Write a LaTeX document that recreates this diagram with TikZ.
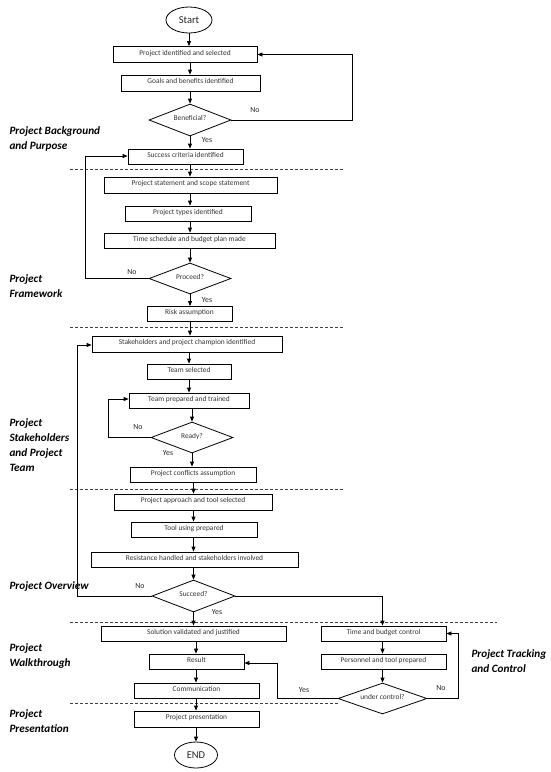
\documentclass[tikz,border=0pt]{standalone}
\usepackage{fontspec}
\setmainfont{Carlito}
\usetikzlibrary{shapes.geometric,arrows.meta}
\begin{document}
\begin{tikzpicture}[x=1pt,y=-1pt,
  box/.style={draw, rectangle, line width=0.8pt, inner sep=0pt, minimum height=15pt, text height=5pt, text depth=4pt, font=\fontsize{7.4}{8}\selectfont, text=black!80},
  dec/.style={draw, diamond, aspect=2.6, line width=0.8pt, inner sep=0pt, text height=4.5pt, text depth=3pt, font=\fontsize{7.4}{8}\selectfont, text=black!80},
  term/.style={draw, ellipse, line width=0.8pt, inner sep=0pt, font=\fontsize{10.5}{12}\selectfont, text=black!85},
  arr/.style={line width=0.8pt, -{Triangle[length=5pt,width=4pt]}},
  ln/.style={line width=0.8pt},
  sep/.style={line width=0.6pt, dash pattern=on 3pt off 2pt, black!75},
  sec/.style={anchor=west, align=left, font=\fontsize{11.2}{15}\selectfont\bfseries\itshape},
  yn/.style={font=\fontsize{7.8}{9}\selectfont, text=black!85}
]
\useasboundingbox (0,0) rectangle (550,772);

% main column
\node[term, minimum width=46pt, minimum height=26pt] (start) at (189,20) {Start};
\node[box, minimum width=144pt, minimum height=16pt] (b1) at (185,54.5) {Project identified and selected};
\node[box, minimum width=139pt, minimum height=16pt] (b2) at (190.5,83) {Goals and benefits identified};
\node[dec, minimum width=82pt, minimum height=32pt] (d1) at (190,120) {Beneficial?};
\node[box, minimum width=115pt] (b3) at (185.5,156.5) {Success criteria identified};

\node[box, minimum width=173pt, minimum height=16pt] (b4) at (190.5,185) {Project statement and scope statement};
\node[box, minimum width=126pt] (b5) at (188,213.5) {Project types identified};
\node[box, minimum width=171pt] (b6) at (189.5,240.5) {Time schedule and budget plan made};
\node[dec, minimum width=82pt, minimum height=31pt] (d2) at (190,278.5) {Proceed?};
\node[box, minimum width=85pt] (b7) at (189.5,314) {Risk assumption};

\node[box, minimum width=190pt, minimum height=16pt] (b8) at (187,344) {Stakeholders and project champion identified};
\node[box, minimum width=84pt] (b9) at (189,371.5) {Team selected};
\node[box, minimum width=120pt] (b10) at (189,400.5) {Team prepared and trained};
\node[dec, minimum width=82pt, minimum height=31pt] (d3) at (192,437.5) {Ready?};
\node[box, minimum width=126pt] (b11) at (193,474.5) {Project conflicts assumption};

\node[box, minimum width=158pt, minimum height=16pt] (b12) at (193,502) {Project approach and tool selected};
\node[box, minimum width=126pt] (b13) at (194,529.5) {Tool using prepared};
\node[box, minimum width=207pt] (b14) at (194.5,559.5) {Resistance handled and stakeholders involved};
\node[dec, minimum width=83pt, minimum height=32pt] (d4) at (193.5,596) {Succeed?};

\node[box, minimum width=185pt] (b15) at (193.5,633.5) {Solution validated and justified};
\node[box, minimum width=95pt] (b16) at (196.5,661.5) {Result};
\node[box, minimum width=125pt] (b17) at (196.5,690.5) {Communication};
\node[box, minimum width=125pt, minimum height=16pt] (b18) at (196.5,719) {Project presentation};
\node[term, minimum width=43pt, minimum height=26pt] (end) at (196,755) {END};

% right column
\node[box, minimum width=125pt] (r1) at (383.5,633.5) {Time and budget control};
\node[box, minimum width=125pt] (r2) at (383.5,661.5) {Personnel and tool prepared};
\node[dec, minimum width=89pt, minimum height=31pt] (d5) at (382.5,698.5) {under control?};

% loop corner coordinates
\coordinate (c1) at (352,0);
\coordinate (c2) at (85,0);
\coordinate (c3) at (108,0);
\coordinate (c4) at (77,0);
\coordinate (c5) at (458,0);
\coordinate (c6) at (277,0);

% separators
\coordinate (s1a) at (70,169);   \coordinate (s1b) at (343,169);
\coordinate (s2a) at (70,327);   \coordinate (s2b) at (343,327);
\coordinate (s3a) at (70,489);   \coordinate (s3b) at (343,489);
\coordinate (s4a) at (70,622);   \coordinate (s4b) at (497,622);
\coordinate (s5a) at (70,703);   \coordinate (s5b) at (d5.west);
\draw[sep] (s1a) -- (s1b);
\draw[sep] (s2a) -- (s2b);
\draw[sep] (s3a) -- (s3b);
\draw[sep] (s4a) -- (s4b);
\draw[sep] (s5a) -- (s5a -| s5b);

% main arrows
\draw[arr] (start.south) -- (start.south |- b1.north);
\draw[arr] (b1.south -| d1) -- (b2.north -| d1);
\draw[arr] (b2.south -| d1) -- (d1.north);
\draw[arr] (d1.south) -- (b3.north -| d1);
\draw[arr] (b3.south -| d2) -- (b4.north -| d2);
\draw[arr] (b4.south -| d2) -- (b5.north -| d2);
\draw[arr] (b5.south -| d2) -- (b6.north -| d2);
\draw[arr] (b6.south -| d2) -- (d2.north);
\draw[arr] (d2.south) -- (b7.north -| d2);
\draw[arr] (b7.south -| d2) -- (b8.north -| d2);
\draw[arr] (b8.south -| b9) -- (b9.north);
\draw[arr] (b9.south) -- (b10.north -| b9);
\draw[arr] (b10.south -| d3) -- (d3.north);
\draw[arr] (d3.south) -- (b11.north -| d3);
\draw[arr] (b11.south -| d4) -- (b12.north -| d4);
\draw[arr] (b12.south -| d4) -- (b13.north -| d4);
\draw[arr] (b13.south -| d4) -- (b14.north -| d4);
\draw[arr] (b14.south -| d4) -- (d4.north);
\draw[arr] (d4.south) -- (b15.north -| d4);
\draw[arr] (b15.south -| end) -- (b16.north -| end);
\draw[arr] (b16.south -| end) -- (b17.north -| end);
\draw[arr] (b17.south -| end) -- (b18.north -| end);
\draw[arr] (b18.south -| end) -- (end.north);

% right arrows
\draw[arr] (d4.east) -| (r1.north -| d5);
\draw[arr] (r1.south -| d5) -- (r2.north -| d5);
\draw[arr] (r2.south -| d5) -- (d5.north);

% loops
\draw[arr] (d1.east) -- (d1.east -| c1) |- (b1.east);
\draw[arr] (d2.west) -- (d2.west -| c2) |- ([yshift=0.5pt]b3.west);
\draw[arr] (d3.west) -- (d3.west -| c3) |- ([yshift=1.5pt]b10.west);
\draw[arr] (d4.west) -- (d4.west -| c4) |- ([yshift=-1pt]b8.west);
\draw[arr] (d5.east) -- (d5.east -| c5) |- (r1.east);
\draw[arr] (d5.west) -- (d5.west -| c6) |- ([yshift=-1.5pt]b16.east);

% yes / no labels
\node[yn] (n1) at (255,110) {No};
\node[yn] (y1) at (207,140) {Yes};
\node[yn] (n2) at (132,272) {No};
\node[yn] (y2) at (207,300) {Yes};
\node[yn] (n3) at (138,427) {No};
\node[yn] (y3) at (168,453) {Yes};
\node[yn] (n4) at (140,586) {No};
\node[yn] (y4) at (217,612) {Yes};
\node[yn] (y5) at (304,690) {Yes};
\node[yn] (n5) at (441,688) {No};

% section labels
\node[sec] (t1) at (6,139) {Project Background\\and Purpose};
\node[sec] (t2) at (6,286.5) {Project\\Framework};
\node[sec] (t3) at (6,445.5) {Project\\Stakeholders\\and Project\\Team};
\node[sec] (t4) at (6,587) {Project Overview};
\node[sec] (t5) at (6,656.5) {Project\\Walkthrough};
\node[sec] (t6) at (6,721.5) {Project\\Presentation};
\node[sec] (t7) at (468,661.5) {Project Tracking\\and Control};
\end{tikzpicture}
\end{document}
